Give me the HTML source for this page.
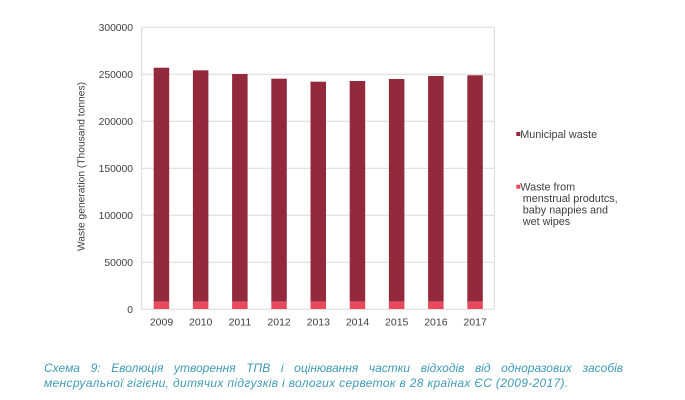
<!DOCTYPE html>
<html>
<head>
<meta charset="utf-8">
<style>
  html, body { margin:0; padding:0; background:#fff; }
  body { width:685px; height:400px; position:relative; overflow:hidden; }
  svg { position:absolute; left:0; top:0; }
  .cap { position:absolute; left:44px; font-family:"Liberation Sans","Noto Sans CJK SC",sans-serif; font-style:italic; font-size:12px; color:#3f9bb4; white-space:nowrap; line-height:14px; }
  .l1 { top:361px; width:579px; text-align:justify; text-align-last:justify; white-space:normal; }
  .l2 { top:376px; letter-spacing:0.33px; }
</style>
</head>
<body>
<svg width="685" height="400" viewBox="0 0 685 400" xmlns="http://www.w3.org/2000/svg">
  <g stroke="#d9d9d9" stroke-width="1" fill="none">
    <line x1="141.7" y1="27.3" x2="494.3" y2="27.3"/>
    <line x1="141.7" y1="74.3" x2="494.3" y2="74.3"/>
    <line x1="141.7" y1="121.3" x2="494.3" y2="121.3"/>
    <line x1="141.7" y1="168.3" x2="494.3" y2="168.3"/>
    <line x1="141.7" y1="215.3" x2="494.3" y2="215.3"/>
    <line x1="141.7" y1="262.3" x2="494.3" y2="262.3"/>
    <line x1="141.7" y1="309.3" x2="494.3" y2="309.3"/>
    <line x1="141.7" y1="27.3" x2="141.7" y2="309.3"/>
    <line x1="494.3" y1="27.3" x2="494.3" y2="309.3"/>
  </g>
  <g fill="#93293b">
    <rect x="153.7" y="67.7" width="15.5" height="234"/>
    <rect x="192.9" y="70.3" width="15.5" height="231.4"/>
    <rect x="232.1" y="74" width="15.5" height="227.7"/>
    <rect x="271.3" y="78.7" width="15.5" height="223"/>
    <rect x="310.5" y="81.7" width="15.5" height="220"/>
    <rect x="349.7" y="81" width="15.5" height="220.7"/>
    <rect x="388.9" y="79" width="15.5" height="222.7"/>
    <rect x="428.1" y="76" width="15.5" height="225.7"/>
    <rect x="467.3" y="75.3" width="15.5" height="226.4"/>
  </g>
  <g fill="#e8495b">
    <rect x="153.7" y="301.7" width="15.5" height="7.3"/>
    <rect x="192.9" y="301.7" width="15.5" height="7.3"/>
    <rect x="232.1" y="301.7" width="15.5" height="7.3"/>
    <rect x="271.3" y="301.7" width="15.5" height="7.3"/>
    <rect x="310.5" y="301.7" width="15.5" height="7.3"/>
    <rect x="349.7" y="301.7" width="15.5" height="7.3"/>
    <rect x="388.9" y="301.7" width="15.5" height="7.3"/>
    <rect x="428.1" y="301.7" width="15.5" height="7.3"/>
    <rect x="467.3" y="301.7" width="15.5" height="7.3"/>
  </g>
  <g font-family="Liberation Sans, Arial, sans-serif" font-size="10.3" fill="#404040" text-anchor="end">
    <text x="133" y="31">300000</text>
    <text x="133" y="78">250000</text>
    <text x="133" y="125">200000</text>
    <text x="133" y="172">150000</text>
    <text x="133" y="219">100000</text>
    <text x="133" y="266">50000</text>
    <text x="133" y="313">0</text>
  </g>
  <g font-family="Liberation Sans, Arial, sans-serif" font-size="10.5" fill="#404040" text-anchor="middle">
    <text x="161.5" y="325.5">2009</text>
    <text x="200.7" y="325.5">2010</text>
    <text x="239.9" y="325.5">2011</text>
    <text x="279.1" y="325.5">2012</text>
    <text x="318.3" y="325.5">2013</text>
    <text x="357.5" y="325.5">2014</text>
    <text x="396.7" y="325.5">2015</text>
    <text x="435.9" y="325.5">2016</text>
    <text x="475.1" y="325.5">2017</text>
  </g>
  <text x="0" y="0" transform="translate(84.3,166.5) rotate(-90)" font-family="Liberation Sans, Arial, sans-serif" font-size="10.5" fill="#404040" text-anchor="middle" textLength="169" lengthAdjust="spacingAndGlyphs">Waste generation (Thousand tonnes)</text>
  <rect x="516.3" y="132" width="4" height="4" fill="#93293b"/>
  <rect x="516.3" y="184.7" width="4" height="4" fill="#e8495b"/>
  <g font-family="Liberation Sans, Arial, sans-serif" font-size="10.8" fill="#404040">
    <text x="520.3" y="137.8">Municipal waste</text>
    <text x="520.3" y="190.5">Waste from</text>
    <text x="522.8" y="202">menstrual produtcs,</text>
    <text x="522.8" y="213.5">baby nappies and</text>
    <text x="522.8" y="225">wet wipes</text>
  </g>
</svg>
<div class="cap l1">Схема 9: Еволюція утворення ТПВ і оцінювання частки відходів від одноразових засобів</div>
<div class="cap l2">менсруальної гігієни, дитячих підгузків і вологих серветок в 28 країнах ЄС (2009-2017).</div>
</body>
</html>
